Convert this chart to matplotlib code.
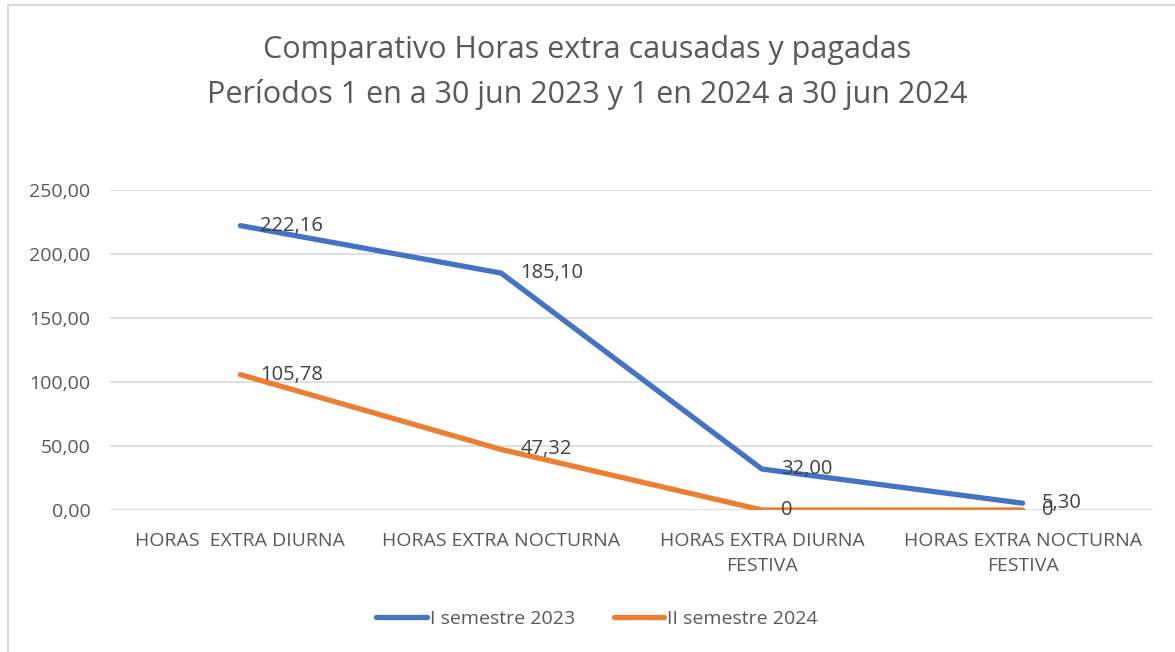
import numpy as np
import matplotlib
matplotlib.use('Agg')
import matplotlib.pyplot as plt
from matplotlib.patches import Rectangle

# categories and series values
categories = ['HORAS  EXTRA DIURNA', 'HORAS EXTRA NOCTURNA',
              'HORAS EXTRA DIURNA\nFESTIVA', 'HORAS EXTRA NOCTURNA\nFESTIVA']
sem_2023 = [222.16, 185.10, 32.00, 5.30]
sem_2024 = [105.78, 47.32, 0.0, 0.0]
labels_2023 = ['222,16', '185,10', '32,00', '5,30']
labels_2024 = ['105,78', '47,32', '0', '0']
yticks = [0, 50, 100, 150, 200, 250]

plt.rcParams['font.family'] = ['Open Sans', 'DejaVu Sans']
grey = '#595959'
blue = '#4472C4'
orange = '#ED7D31'

fig = plt.figure(figsize=(11.75, 6.52), dpi=100)
# chart frame (partly cropped in the screenshot)
fig.patches.append(Rectangle((8 / 1175, -0.1), 1.2, 1 - 5 / 652 + 0.1,
                             transform=fig.transFigure, fill=False,
                             edgecolor='#D9D9D9', linewidth=1.5))

ax = fig.add_axes([110 / 1175, 1 - 510 / 652, 1043 / 1175, 320 / 652])
x = np.arange(len(categories))

ax.plot(x, sem_2023, color=blue, lw=3.8, solid_capstyle='round',
        label='I semestre 2023', zorder=3)
ax.plot(x, sem_2024, color=orange, lw=3.8, solid_capstyle='round',
        label='II semestre 2024', zorder=3)

for xi, v, t in zip(x, sem_2023, labels_2023):
    ax.annotate(t, (xi, v), xytext=(14, 0), textcoords='offset points',
                ha='left', va='center', fontsize=14.5, color='#404040', zorder=4)
for xi, v, t in zip(x, sem_2024, labels_2024):
    ax.annotate(t, (xi, v), xytext=(14, 0), textcoords='offset points',
                ha='left', va='center', fontsize=14.5, color='#404040', zorder=4)

ax.set_xlim(-0.5, len(categories) - 0.5)
ax.set_ylim(0, 250)
ax.set_yticks(yticks)
ax.set_yticklabels(['%d,00' % v for v in yticks])
ax.set_xticks(x)
ax.set_xticklabels(categories, linespacing=1.45)
ax.tick_params(axis='both', length=0, labelsize=14, labelcolor=grey)
ax.tick_params(axis='y', pad=14)
ax.tick_params(axis='x', pad=16)
ax.grid(axis='y', color='#D9D9D9', lw=1.2)
ax.set_axisbelow(True)
for s in ax.spines.values():
    s.set_visible(False)

fig.text(0.5, 1 - 50 / 652, 'Comparativo Horas extra causadas y pagadas',
         ha='center', va='center', fontsize=22, color=grey)
fig.text(0.5, 1 - 95 / 652, 'Períodos 1 en a 30 jun 2023 y 1 en 2024 a 30 jun 2024',
         ha='center', va='center', fontsize=22, color=grey)

fig.legend(loc='center', bbox_to_anchor=(597 / 1175, 1 - 619 / 652), ncol=2,
           frameon=False, fontsize=14, labelcolor=grey, handlelength=2.6,
           handletextpad=0.15, columnspacing=2.0)

fig.savefig('out.png', dpi=100)
